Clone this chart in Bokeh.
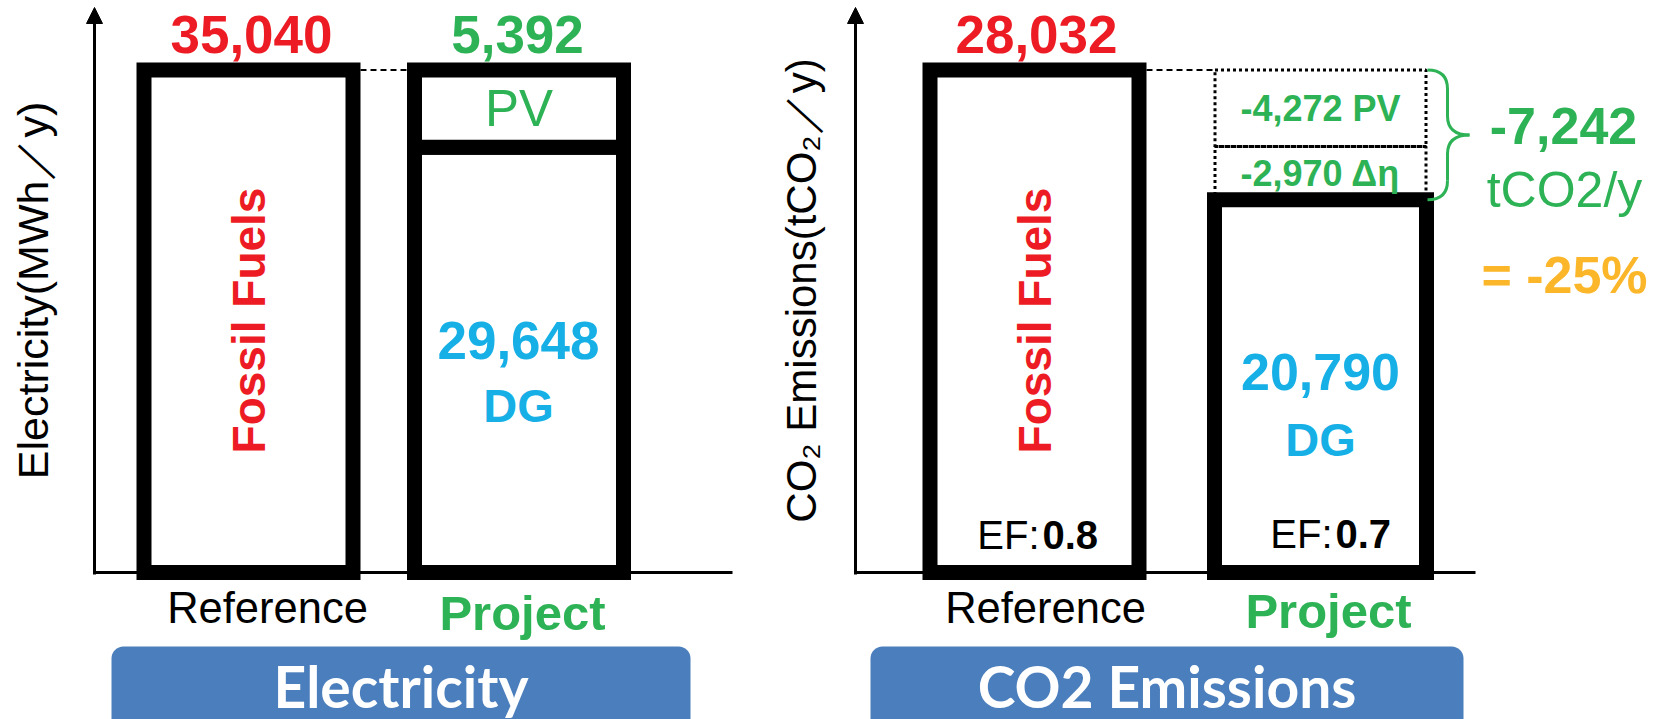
from math import pi
from bokeh.plotting import figure
from bokeh.models import Range1d, BoxAnnotation, Arrow, NormalHead
from bokeh.core.properties import value
from bokeh.embed import file_html
from bokeh.resources import INLINE

# ---------------- data ----------------
categories = ["Reference", "Project"]
panel_titles = ["Electricity", "CO2 Emissions"]
elec_reference = [35040]        # Fossil fuels (MWh/y)
elec_project_dg = [29648]       # DG (MWh/y)
elec_project_pv = [5392]        # PV (MWh/y)
co2_reference = [28032]         # tCO2/y
co2_project_dg = [20790]        # tCO2/y
co2_reduction_pv = [4272]
co2_reduction_eff = [2970]
co2_reduction_total = [7242]
co2_reduction_pct = [-25]
emission_factor = [0.8, 0.7]

# ---------------- colours ----------------
RED = "#ED1C24"
GREEN = "#2DB255"
CYAN = "#16AFE6"
ORANGE = "#FBB62A"
BLUE = "#4A7EBC"
SANS = value("Liberation Sans")

# ---------------- layout (image pixel coordinates) ----------------
W, H = 1662, 719
AXIS_Y = 572.0      # pixel row of the zero line
TOP_Y = 69.5        # pixel row of the tallest bar top

def data_range(vmax):
    per_px = vmax / (AXIS_Y - TOP_Y)
    return Range1d(-(H - AXIS_Y) * per_px, AXIS_Y * per_px)

p = figure(width=W, height=H, x_range=Range1d(0, W), y_range=Range1d(H, 0),
           output_backend="svg", toolbar_location=None, min_border=0)
p.extra_y_ranges = {"elec": data_range(elec_reference[0]),
                    "co2": data_range(co2_reference[0])}
p.axis.visible = False
p.grid.visible = False
p.outline_line_color = None
p.background_fill_color = "white"

def txt(x, y, s, size, color="black", bold=False, font=SANS, align="center",
        angle=0.0, rng="default", mid=False):
    """(x, y) is the baseline position unless mid=True."""
    if not mid:
        if angle:
            x = x - 0.35 * size
        else:
            y = y - 0.35 * size
    p.text(x=[x], y=[y], text=[s], text_font=font, text_font_size=f"{size}px",
           text_font_style="bold" if bold else "normal", text_color=color,
           text_align=align, text_baseline="middle", angle=angle, y_range_name=rng)

# ---------------- axes ----------------
p.segment(x0=[93, 855], y0=[AXIS_Y, AXIS_Y], x1=[732, 1475], y1=[AXIS_Y, AXIS_Y],
          line_color="black", line_width=3)
for ax in (94, 855):
    p.add_layout(Arrow(end=NormalHead(size=16, fill_color="black", line_color="black"),
                       x_start=ax, y_start=574, x_end=ax, y_end=7,
                       line_color="black", line_width=3))

# ---------------- electricity panel ----------------
EX = {"Reference": 248, "Project": 518.5}
BW = 209
p.vbar(x=[EX["Reference"]], top=elec_reference, bottom=0, width=BW,
       fill_color="white", line_color="black", line_width=15, line_join="miter",
       y_range_name="elec")
p.vbar(x=[EX["Project"]], top=elec_project_dg, bottom=0, width=BW,
       fill_color="white", line_color="black", line_width=15, line_join="miter",
       y_range_name="elec")
p.vbar(x=[EX["Project"]], top=[elec_project_dg[0] + elec_project_pv[0]],
       bottom=elec_project_dg, width=BW,
       fill_color="white", line_color="black", line_width=15, line_join="miter",
       y_range_name="elec")
p.segment(x0=[EX["Reference"] + BW / 2 + 7.5], y0=elec_reference,
          x1=[EX["Project"] - BW / 2 - 7.5], y1=elec_reference,
          line_color="black", line_width=2, line_dash="6 4", y_range_name="elec")

txt(251, 53, f"{elec_reference[0]:,}", 53, RED, bold=True)
txt(517, 53, f"{elec_project_pv[0]:,}", 53, GREEN, bold=True)
txt(EX["Project"], elec_project_dg[0] + elec_project_pv[0] / 2, "PV", 51, GREEN,
    rng="elec", mid=True)
txt(518, 359, f"{elec_project_dg[0]:,}", 53, CYAN, bold=True)
txt(518, 421, "DG", 47, CYAN, bold=True)
txt(265, 320, "Fossil Fuels", 46, RED, bold=True, angle=pi / 2)
txt(48, 290, "Electricity(MWh／y)", 43, "black", angle=pi / 2)
txt(267, 623, categories[0], 43.5, "black")
txt(522, 630, categories[1], 49, GREEN, bold=True)

# ---------------- CO2 panel ----------------
CX = {"Reference": 1034, "Project": 1320}
p.vbar(x=[CX["Reference"]], top=co2_reference, bottom=0, width=BW,
       fill_color="white", line_color="black", line_width=15, line_join="miter",
       y_range_name="co2")
eff_top = co2_project_dg[0] + co2_reduction_eff[0]
p.vbar(x=[CX["Project"]] * 2, top=[eff_top, eff_top + co2_reduction_pv[0]],
       bottom=[co2_project_dg[0], eff_top], width=211,
       fill_color=None, line_color="black", line_width=3, line_dash="3 3",
       y_range_name="co2")
p.vbar(x=[CX["Project"]], top=co2_project_dg, bottom=0, width=212,
       fill_color="white", line_color="black", line_width=15, line_join="miter",
       y_range_name="co2")
p.segment(x0=[CX["Reference"] + BW / 2 + 7.5], y0=co2_reference,
          x1=[CX["Project"] - 106], y1=co2_reference,
          line_color="black", line_width=2, line_dash="6 4", y_range_name="co2")

# curly brace spanning the reduction
T, B = co2_reference[0], co2_project_dg[0]
Mid = (T + B) / 2
r = 1060
xa, xb, xc = 1427, 1447, 1469
p.quadratic(x0=[xa, xb, xc, xb], y0=[T, Mid + r, Mid, B + r],
            x1=[xb, xc, xb, xa], y1=[T - r, Mid, Mid - r, B],
            cx=[xb, xb, xb, xb], cy=[T, Mid, Mid, B],
            line_color=GREEN, line_width=3, y_range_name="co2")
p.segment(x0=[xb, xb], y0=[T - r, Mid - r], x1=[xb, xb], y1=[Mid + r, B + r],
          line_color=GREEN, line_width=3, y_range_name="co2")

txt(1036, 53, f"{co2_reference[0]:,}", 53, RED, bold=True)
txt(CX["Project"], eff_top + co2_reduction_pv[0] / 2, f"-{co2_reduction_pv[0]:,} PV",
    36, GREEN, bold=True, rng="co2", mid=True)
txt(CX["Project"], co2_project_dg[0] + co2_reduction_eff[0] / 2,
    f"-{co2_reduction_eff[0]:,} Δη", 36, GREEN, bold=True, rng="co2", mid=True)
txt(1563, 144, f"-{co2_reduction_total[0]:,}", 52, GREEN, bold=True)
txt(1564, 207, "tCO2/y", 50, GREEN)
txt(1564, 293, f"= {co2_reduction_pct[0]}%", 52, ORANGE, bold=True)
txt(1320, 390, f"{co2_project_dg[0]:,}", 52, CYAN, bold=True)
txt(1320, 455, "DG", 47, CYAN, bold=True)
txt(1051, 320, "Fossil Fuels", 46, RED, bold=True, angle=pi / 2)
txt(816, 290, "CO₂ Emissions(tCO₂／y)", 42, "black", angle=pi / 2)
txt(1039, 548, "EF:", 40, "black", align="right")
txt(1042, 548, f"{emission_factor[0]}", 40, "black", bold=True, align="left")
txt(1332, 547, "EF:", 40, "black", align="right")
txt(1335, 547, f"{emission_factor[1]}", 40, "black", bold=True, align="left")
txt(1045, 623, categories[0], 43.5, "black")
txt(1328, 628, categories[1], 49, GREEN, bold=True)

# ---------------- panel title boxes ----------------
for (l, rgt), title in zip([(111, 690), (870, 1463)], panel_titles):
    p.add_layout(BoxAnnotation(left=l, right=rgt, top=646, bottom=740,
                               fill_color=BLUE, fill_alpha=1.0, line_alpha=0,
                               border_radius=12, level="underlay"))
    txt((l + rgt) / 2, 705, title, 57, "white", bold=True, font=value("Lato"))

open("out.html", "w").write(file_html(p, INLINE))
